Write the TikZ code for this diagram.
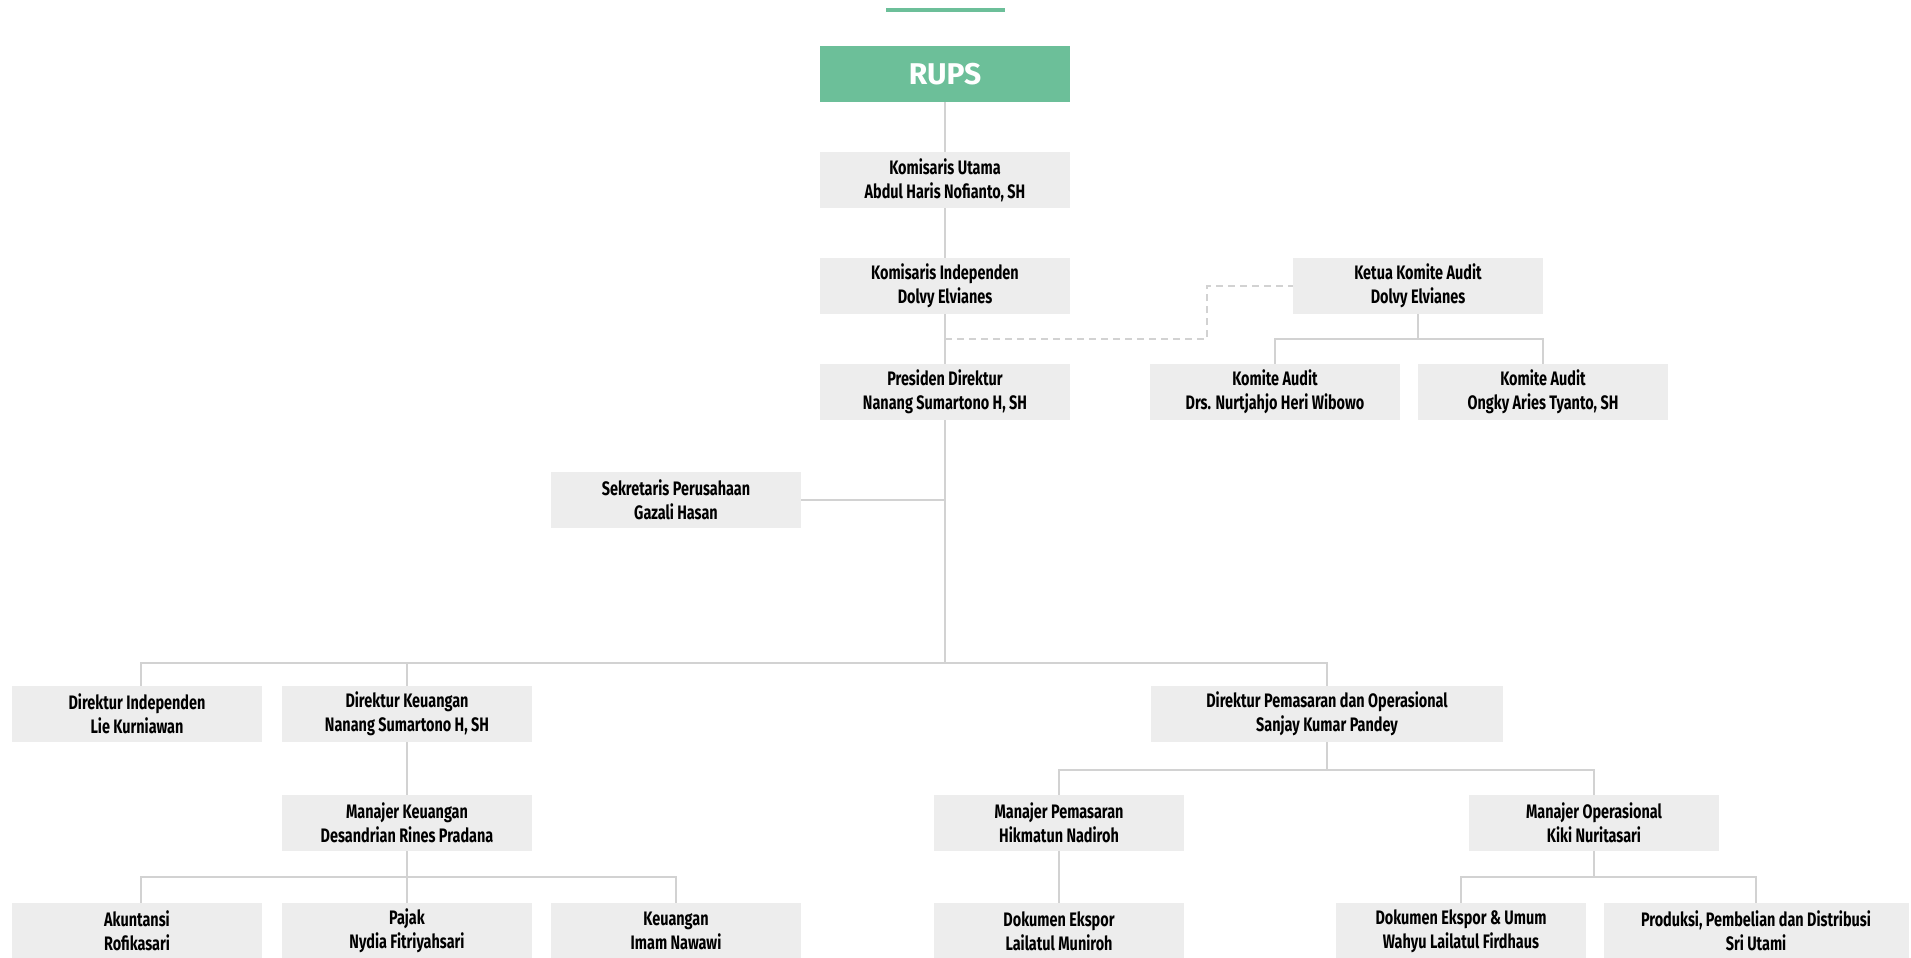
\documentclass[tikz,border=0pt]{standalone}
\usepackage{fontspec}
\usepackage{tikz}
\newfontfamily\boxfont{Fira Sans}[FakeStretch=0.74]
\newfontfamily\rupsfont{Fira Sans}
\definecolor{rupsgreen}{HTML}{6CBF99}
\definecolor{boxgray}{HTML}{EDEDED}
\definecolor{linegray}{HTML}{D2D2D2}

\begin{document}
\begin{tikzpicture}[x=1pt,y=-1pt,
  jabatan/.style={fill=boxgray,minimum width=250pt,minimum height=56pt,inner sep=0pt,
    align=center,font=\boxfont\bfseries\fontsize{19.5}{24}\selectfont},
  link/.style={draw=linegray,line width=1.6pt},
  dashlink/.style={draw=linegray,line width=1.6pt,dash pattern=on 7pt off 5pt}]

\useasboundingbox (0,0) rectangle (1911,958);

\draw[rupsgreen,line width=4pt]  (886,10)  --  (1005,10);

% dewan
\node [fill=rupsgreen,minimum width=250pt,minimum height=56pt,text=white,
  font=\rupsfont\bfseries\fontsize{30}{32}\selectfont] (rups) at (945,74) {RUPS};
\node [jabatan] (kutama) at (945,180) {Komisaris Utama\\Abdul Haris Nofianto, SH};
\node [jabatan] (kindep) at (945,286) {Komisaris Independen\\Dolvy Elvianes};
\node [jabatan] (ketua) at (1418,286) {Ketua Komite Audit\\Dolvy Elvianes};
\node [jabatan] (audit1) at (1275,392) {Komite Audit\\Drs. Nurtjahjo Heri Wibowo};
\node [jabatan] (audit2) at (1543,392) {Komite Audit\\Ongky Aries Tyanto, SH};
\node [jabatan] (presdir) at (945,392) {Presiden Direktur\\Nanang Sumartono H, SH};
\node [jabatan] (sekper) at (676,500) {Sekretaris Perusahaan\\Gazali Hasan};

% direksi
\node [jabatan] (dirind) at (137,714) {Direktur Independen\\Lie Kurniawan};
\node [jabatan] (dirkeu) at (407,714) {Direktur Keuangan\\Nanang Sumartono H, SH};
\node [jabatan,minimum width=352pt] (dirpem) at (1327,714) {Direktur Pemasaran dan Operasional\\Sanjay Kumar Pandey};

% manajer
\node [jabatan] (mankeu) at (407,823) {Manajer Keuangan\\Desandrian Rines Pradana};
\node [jabatan] (manpem) at (1059,823) {Manajer Pemasaran\\Hikmatun Nadiroh};
\node [jabatan] (manops) at (1594,823) {Manajer Operasional\\Kiki Nuritasari};

% staf
\node [jabatan] (akun) at (137,931) {Akuntansi\\Rofikasari};
\node [jabatan] (pajak) at (407,931) {Pajak\\Nydia Fitriyahsari};
\node [jabatan] (keu) at (676,931) {Keuangan\\Imam Nawawi};
\node [jabatan] (dokeks) at (1059,931) {Dokumen Ekspor\\Lailatul Muniroh};
\node [jabatan] (dokum) at (1461,931) {Dokumen Ekspor \& Umum\\Wahyu Lailatul Firdhaus};
\node [jabatan,minimum width=305pt] (prod) at (1756,931) {Produksi, Pembelian dan Distribusi\\Sri Utami};

\coordinate (trunk) at (945,663);
\coordinate (audbar) at (1418,339);
\coordinate (keubar) at (407,877);
\coordinate (pembar) at (1327,770);
\coordinate (opsbar) at (1594,877);
\coordinate (dashbend) at (1207,339);

\path[link]  (rups)  --  (kutama);
\path[link]  (kutama)  --  (kindep);
\path[link]  (kindep)  --  (presdir);
\path[link]  (presdir)  --  (trunk);
\path[link]  (sekper.east)  --  (sekper.east -| presdir);

\path[dashlink]  (kindep.south |- dashbend)  --  (dashbend)  |-  (ketua.west);

\path[link]  (ketua)  --  (audbar);
\path[link]  (audit1)  |-  (audbar)  -|  (audit2);

\path[link]  ([xshift=4pt]dirind.north)  |-  (trunk)  -|  (dirpem);
\path[link]  (dirkeu)  --  (dirkeu |- trunk);

\path[link]  (dirkeu)  --  (mankeu);
\path[link]  (mankeu)  --  (keubar);
\path[link]  ([xshift=4pt]akun.north)  |-  (keubar)  -|  (keu);
\path[link]  (pajak)  --  (keubar);

\path[link]  (dirpem)  --  (pembar);
\path[link]  (manpem)  |-  (pembar)  -|  (manops);
\path[link]  (manpem)  --  (dokeks);

\path[link]  (manops)  --  (opsbar);
\path[link]  (dokum)  |-  (opsbar)  -|  (prod);

\end{tikzpicture}
\end{document}
